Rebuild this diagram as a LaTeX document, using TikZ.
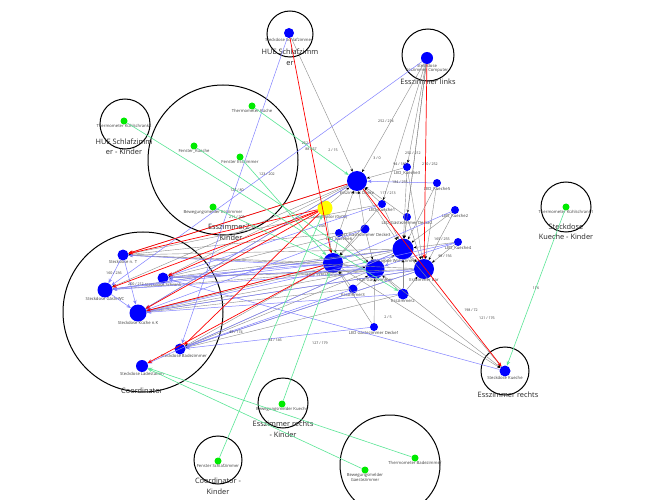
\documentclass[tikz,border=0pt]{standalone}
\usepackage{fontspec}
\setmainfont{Open Sans}
\usetikzlibrary{arrows.meta}
\definecolor{nblue}{RGB}{0,0,255}
\definecolor{ngreen}{RGB}{0,235,0}
\definecolor{nyellow}{RGB}{255,255,0}
\definecolor{lav}{RGB}{130,130,255}
\definecolor{mint}{RGB}{90,230,150}
\definecolor{egray}{RGB}{140,140,140}
\begin{document}
\begin{tikzpicture}[x=1pt,y=-1pt,
 dev/.style={circle,fill=nblue,inner sep=0pt},
 sens/.style={circle,fill=ngreen,inner sep=0pt,minimum size=7pt},
 lab/.style={font=\fontsize{4.2}{4.8}\selectfont,text=black!75,inner sep=0.5pt,align=center},
 ttl/.style={font=\fontsize{7.4}{10.5}\selectfont,text=black!85,align=center,inner sep=0pt},
 grp/.style={draw=black,line width=1pt,circle,inner sep=0pt},
 ge/.style={draw=egray,line width=0.4pt,-{Stealth[length=3pt,width=2.4pt,black]}},
 re/.style={draw=red,line width=0.7pt,-{Stealth[length=4.5pt,width=3.5pt]}},
 be/.style={draw=lav,line width=0.5pt,-{Stealth[length=4.5pt,width=3.5pt]}},
 gre/.style={draw=mint,line width=0.6pt,-{Stealth[length=4.5pt,width=3.5pt,open]}},
 num/.style={font=\fontsize{3.6}{4}\selectfont,text=black!80,inner sep=0.3pt}]
\useasboundingbox (0,0) rectangle (670,500);
\fill[white] (0,0) rectangle (670,500);

% group circles
\node[grp,minimum size=46pt] (gSchlaf) at (290,34) {};
\node[grp,minimum size=52pt] (gLinks) at (428,55) {};
\node[grp,minimum size=50pt] (gKuehl2) at (125,124) {};
\node[grp,minimum size=150pt] (gEss2) at (223,160) {};
\node[grp,minimum size=160pt] (gCoord) at (143,312) {};
\node[grp,minimum size=50pt] (gKuehl1) at (566,207) {};
\node[grp,minimum size=48pt] (gRechts) at (505,371) {};
\node[grp,minimum size=50pt] (gRechtsK) at (283,403) {};
\node[grp,minimum size=100pt] (gBad) at (390,465) {};
\node[grp,minimum size=48pt] (gCoordK) at (218,460) {};

% group titles
\node[ttl] (tSchlaf) at (290,57) {HUE Schlafzimm\\er};
\node[ttl] (tLinks) at (428,82) {Esszimmer links};
\node[ttl] (tKuehl2) at (124,146.5) {HUE Schlafzimm\\er - Kinder};
\node[ttl] (tEss2) at (231,232.5) {Esszimmer2 -\\Kinder};
\node[ttl] (tCoord) at (142,391) {Coordinator};
\node[ttl] (tKuehl1) at (566,231.5) {Steckdose\\Kueche - Kinder};
\node[ttl] (tRechts) at (508,395) {Esszimmer rechts};
\node[ttl] (tRechtsK) at (283,429) {Esszimmer rechts\\- Kinder};
\node[ttl] (tCoordK) at (218,486) {Coordinator -\\Kinder};

% outer devices
\node[dev,minimum size=10pt,label={[lab,yshift=1pt]below:Steckdose Schlafzimmer}] (schlaf) at (289,33) {};
\node[dev,minimum size=12pt,label={[lab,yshift=1pt]below:Steckdose\\Esszimmer Computer}] (comp) at (427,58) {};
\node[sens,label={[lab,yshift=1pt]below:Thermometer Kühlschrank2}] (kuehl2) at (124,121) {};
\node[sens,label={[lab,yshift=1pt]below:Thermometer Küche}] (thkue) at (252,106) {};
\node[sens,label={[lab,yshift=1pt]below:Fenster\_Kueche}] (fkue) at (194,146) {};
\node[sens,label={[lab,yshift=1pt]below:Fenster Esszimmer}] (fess) at (240,157) {};
\node[sens,label={[lab,yshift=1pt]below:Bewegungsmelder Esszimmer}] (bess) at (213,207) {};
\node[sens,label={[lab,yshift=1pt]below:Thermometer Kühlschrank1}] (kuehl1) at (566,207) {};
\node[dev,minimum size=11pt,label={[lab,yshift=1pt]below:Steckdose Kueche}] (skue) at (505,371) {};
\node[sens,label={[lab,yshift=1pt]below:Bewegungsmelder Kueche}] (bkue) at (282,404) {};
\node[sens,label={[lab,yshift=1pt]below:Thermometer Badezimmer}] (thbad) at (415,458) {};
\node[sens,label={[lab,yshift=1pt]below:Bewegungsmelder\\Gaestezimmer}] (bgast) at (365,470) {};
\node[sens,label={[lab,yshift=1pt]below:Fenster Schlafzimmer}] (fschl) at (218,461) {};

% coordinator group devices
\node[dev,minimum size=11pt,label={[lab,yshift=1pt]below:Steckdose n. T}] (nt) at (123,255) {};
\node[dev,minimum size=15pt,label={[lab,yshift=1pt]below:Steckdose GästeWC}] (gwc) at (105,290) {};
\node[dev,minimum size=11pt,label={[lab,yshift=1pt]below:Steckdose Schrank}] (schrank) at (163,278) {};
\node[dev,minimum size=17pt,label={[lab,yshift=1pt]below:Steckdose Küche n.K}] (knk) at (138,313) {};
\node[dev,minimum size=11pt,label={[lab,yshift=1pt,xshift=4pt]below:Steckdose Badezimmer}] (bad) at (180,349) {};
\node[dev,minimum size=12pt,label={[lab,yshift=1pt]below:Steckdose Ladestation}] (lade) at (142,366) {};

% central cluster
\node[circle,fill=nyellow,inner sep=0pt,minimum size=15pt,label={[lab,yshift=1pt,xshift=4pt]below:Coordinator (0x00)}] (coord) at (325,208) {};
\node[dev,minimum size=20pt,label={[lab,yshift=1pt]below:Esszimmer Decke}] (r1) at (357,181) {};
\node[dev,minimum size=20pt,label={[lab,yshift=1pt,xshift=-8pt]below:HUE Schlafzimmer}] (hue) at (333,263) {};
\node[dev,minimum size=19pt,label={[lab,yshift=1pt]below:HUE Gästezimmer}] (r3) at (375,269) {};
\node[dev,minimum size=21pt,label={[lab,yshift=1pt,xshift=-8pt]below:Stehlampe Wohnzimmer}] (r4) at (403,249) {};
\node[dev,minimum size=20pt,label={[lab,yshift=1pt]below:Esszimmer Bar}] (r5) at (424,269) {};
\node[dev,minimum size=8pt,label={[lab,yshift=1pt]below:LED\_Kueche3}] (l3) at (407,167) {};
\node[dev,minimum size=8pt,label={[lab,yshift=1pt]below:LED\_Kueche5}] (l5) at (437,183) {};
\node[dev,minimum size=8pt,label={[lab,yshift=1pt]below:LED\_Kueche2}] (l2) at (455,210) {};
\node[dev,minimum size=8pt,label={[lab,yshift=1pt]below:LED\_Kueche4}] (l4) at (458,242) {};
\node[dev,minimum size=8pt,label={[lab,yshift=1pt]below:LED\_Kueche1}] (l1) at (382,204) {};
\node[dev,minimum size=8pt,label={[lab,yshift=1pt]below:LED\_Gästezimmer Decke2}] (ld2) at (407,217) {};
\node[dev,minimum size=9pt,label={[lab,yshift=1pt]below:LED\_Gästezimmer Decke3}] (ld3) at (365,229) {};
\node[dev,minimum size=8pt,label={[lab,yshift=1pt]below:LED\_Kueche6}] (l6) at (339,233) {};
\node[dev,minimum size=9pt,label={[lab,yshift=1pt]below:Esszimmer3}] (e3) at (353,289) {};
\node[dev,minimum size=11pt,label={[lab,yshift=1pt]below:Esszimmer2}] (e2) at (403,294) {};
\node[dev,minimum size=8pt,label={[lab,yshift=1pt]below:LED Gästezimmer Decke1}] (ld1) at (374,327) {};

% gray edges
\foreach \a/\b in {schlaf/r1,comp/r1,comp/l1,comp/ld2,comp/r4,comp/l3,
  l3/r1,l1/r1,ld2/r1,ld3/r1,l6/r1,l1/r4,l2/r4,l4/r4,l4/r5,l2/r5,ld2/r4,ld2/r5,
  ld3/r3,ld3/hue,l6/hue,l6/r3,e3/hue,e3/r3,e2/r3,e2/r5,e2/r4,ld1/r3,ld1/hue,
  coord/r1,coord/hue,r1/r4,r4/r5,hue/r3,r3/r4,l5/r4,l3/r4,l3/r5,l5/r5,l1/hue,
  hue/skue,r3/skue,r4/skue,
  r1/nt,r4/nt,hue/nt,r3/schrank,r4/schrank,r5/schrank,r1/knk,r3/knk,r5/knk,
  r4/gwc,hue/bad,r3/bad,r4/bad,r5/bad,r1/schrank,hue/knk,r4/knk,r5/nt,r3/gwc,
  l6/nt,ld3/schrank,e3/knk,l1/nt,e2/bad,r1/gwc}
  \draw[ge] (\a) -- (\b);

% lavender edges
\foreach \a/\b in {l2/hue,l4/r3,l5/r1,comp/gwc,schlaf/bad,skue/schrank,nt/gwc,nt/knk,
  gwc/knk,ld1/bad,r5/knk,r4/gwc,r3/nt,r1/knk,hue/gwc,r4/lade,e2/knk,l1/schrank,r5/bad,e3/bad,
  r3/schrank,hue/schrank,r5/gwc,ld3/knk,l4/knk}
  \draw[be] (\a) -- (\b);

% red edges
\foreach \a/\b in {coord/nt,coord/gwc,coord/schrank,coord/knk,coord/bad,hue/lade,hue/knk,
  schlaf/hue,comp/r5,r1/skue,r1/nt}
  \draw[re] (\a) -- (\b);

% green edges
\foreach \a/\b in {thkue/r1,kuehl2/e2,fkue/r3,fess/hue,bess/hue,kuehl1/skue,bkue/hue,
  thbad/lade,bgast/lade,fschl/coord}
  \draw[gre] (\a) -- (\b);

% link quality numbers
\node[num] (n1) at (386,121) {252 / 214};
\node[num] (n2) at (333,150) {2 / 15};
\node[num] (n3) at (377,158) {3 / 0};
\node[num] (n4) at (311,149) {88 / 57};
\node[num] (n5) at (305,143) {252};
\node[num] (n6) at (267,174) {123 / 202};
\node[num] (n7) at (237,190) {127 / 80};
\node[num] (n8) at (237,217) {211 / 205};
\node[num] (n9) at (322,226) {246};
\node[num] (n10) at (114,273) {160 / 236};
\node[num] (n11) at (136,284) {200 / 212};
\node[num] (n12) at (536,288) {116};
\node[num] (n13) at (400,164) {94 / 180};
\node[num] (n14) at (413,153) {252 / 212};
\node[num] (n15) at (430,164) {210 / 252};
\node[num] (n16) at (400,182) {184 / 255};
\node[num] (n17) at (442,239) {165 / 255};
\node[num] (n18) at (445,256) {98 / 156};
\node[num] (n19) at (388,193) {117 / 213};
\node[num] (n20) at (320,343) {127 / 179};
\node[num] (n21) at (388,317) {2 / 5};
\node[num] (n22) at (471,310) {198 / 72};
\node[num] (n23) at (487,318) {121 / 176};
\node[num] (n24) at (275,340) {54 / 146};
\node[num] (n25) at (236,332) {49 / 174};
\end{tikzpicture}
\end{document}
